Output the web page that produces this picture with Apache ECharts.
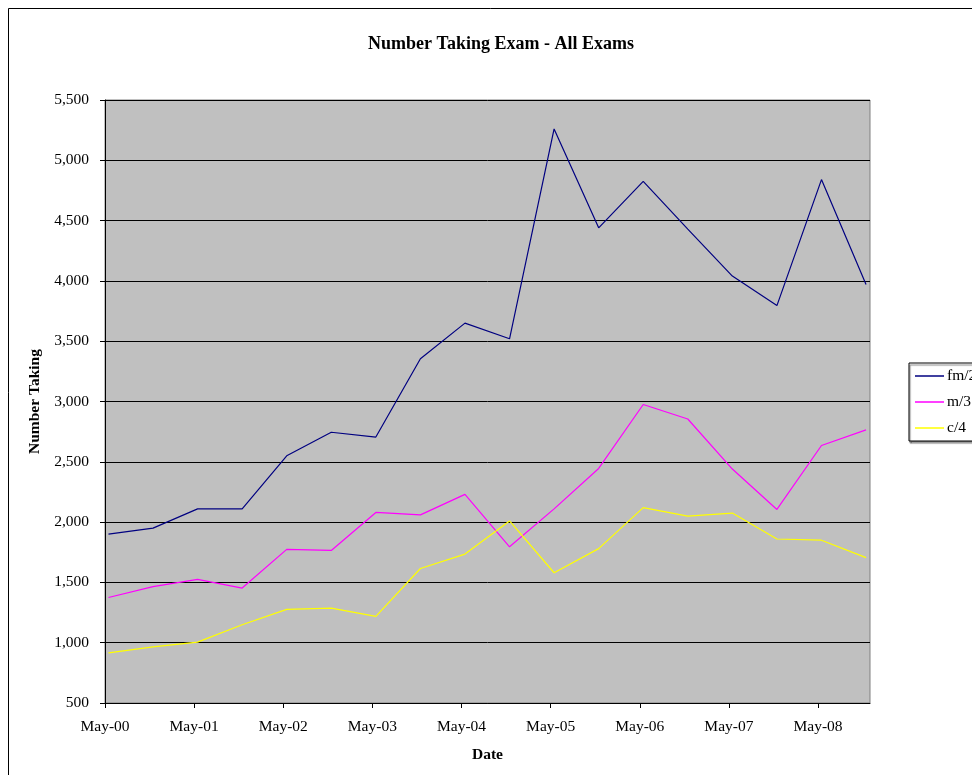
<!DOCTYPE html>
<html>
<head>
<meta charset="utf-8">
<title>Number Taking Exam - All Exams</title>
<script src="https://cdn.jsdelivr.net/npm/echarts@6/dist/echarts.min.js"></script>
<style>
  html, body { margin: 0; padding: 0; background: #ffffff; }
  #chart { width: 972px; height: 775px; }
</style>
</head>
<body>
<div id="chart"></div>
<script>
// Exam sittings (May and November each year)
const examDates = [
  '2000-05-15', '2000-11-15', '2001-05-15', '2001-11-15',
  '2002-05-15', '2002-11-15', '2003-05-15', '2003-11-15',
  '2004-05-15', '2004-11-15', '2005-05-15', '2005-11-15',
  '2006-05-15', '2006-11-15', '2007-05-15', '2007-11-15',
  '2008-05-15', '2008-11-15'
];

// Candidates per sitting
const fm2 = [1900, 1950, 2110, 2110, 2550, 2745, 2705, 3355, 3650, 3520,
             5260, 4440, 4825, 4430, 4040, 3795, 4840, 3970];
const m3  = [1375, 1465, 1525, 1453, 1774, 1765, 2080, 2060, 2230, 1795,
             2110, 2445, 2975, 2855, 2440, 2105, 2635, 2765];
const c4  = [ 915,  965, 1005, 1149, 1276, 1286, 1218, 1615, 1735, 2010,
             1580, 1780, 2120, 2050, 2075, 1860, 1850, 1705];

// Date axis: start, end and labelled ticks
const axisStart = '2000-05-01';
const axisEnd = '2008-12-01';
const tickDates = ['2000-05-01', '2001-05-01', '2002-05-01', '2003-05-01',
                   '2004-05-01', '2005-05-01', '2006-05-01', '2007-05-01', '2008-05-01'];
const tickLabels = ['May-00', 'May-01', 'May-02', 'May-03', 'May-04',
                    'May-05', 'May-06', 'May-07', 'May-08'];

// Y axis range
const yMin = 500, yMax = 5500, yStep = 500;

// Convert a date string into months elapsed since the axis start
function monthsFromStart(s) {
  const [y, m, d] = s.split('-').map(Number);
  const [y0, m0, d0] = axisStart.split('-').map(Number);
  return (y - y0) * 12 + (m - m0) + (d - d0) / 30;
}

const xMax = monthsFromStart(axisEnd);
const tickValues = tickDates.map(monthsFromStart);
const xs = examDates.map(monthsFromStart);
const toPairs = arr => arr.map((v, i) => [xs[i], v]);

const serif = "'Liberation Serif', 'Times New Roman', Times, serif";
const labelSize = 15.5;

const chart = echarts.init(document.getElementById('chart'), null, { renderer: 'canvas' });

chart.setOption({
  backgroundColor: '#ffffff',
  animation: false,
  textStyle: { fontFamily: serif },
  graphic: [{
    type: 'rect',
    shape: { x: 8.5, y: 8.5, width: 1200, height: 1200 },
    style: { fill: 'none', stroke: '#000000', lineWidth: 1 },
    silent: true,
    z: -10
  }],
  title: {
    text: 'Number Taking Exam - All Exams',
    left: 496,
    top: 30,
    textAlign: 'center',
    textStyle: { fontFamily: serif, fontSize: 18, fontWeight: 'bold', color: '#000000' }
  },
  legend: {
    orient: 'vertical',
    left: 909,
    top: 363,
    padding: [5, 8, 5, 6],
    icon: 'rect',
    itemWidth: 29,
    itemHeight: 1.5,
    itemGap: 10,
    backgroundColor: '#ffffff',
    borderColor: '#000000',
    borderWidth: 1,
    shadowColor: 'rgba(96,96,96,0.8)',
    shadowOffsetX: 1,
    shadowOffsetY: 2,
    shadowBlur: 1,
    textStyle: { fontFamily: serif, fontSize: labelSize, color: '#000000', lineHeight: 15, padding: [0, 0, 0, -2] },
    data: ['fm/2', 'm/3', 'c/4']
  },
  grid: {
    left: 105,
    right: 102,
    top: 100,
    bottom: 72,
    show: true,
    backgroundColor: '#c0c0c0',
    borderColor: '#808080',
    borderWidth: 1,
    containLabel: false
  },
  xAxis: {
    type: 'value',
    min: 0,
    max: xMax,
    name: 'Date',
    nameLocation: 'middle',
    nameGap: 44,
    nameTextStyle: { fontFamily: serif, fontSize: labelSize, fontWeight: 'bold', color: '#000000' },
    axisLine: { show: true, onZero: false, lineStyle: { color: '#000000', width: 1 } },
    axisTick: { show: true, length: 5, lineStyle: { color: '#000000' }, customValues: tickValues },
    axisLabel: {
      margin: 16,
      fontFamily: serif,
      fontSize: labelSize,
      color: '#000000',
      customValues: tickValues,
      formatter: v => {
        const i = tickValues.findIndex(t => Math.abs(t - v) < 1e-6);
        return i >= 0 ? tickLabels[i] : '';
      }
    },
    splitLine: { show: false }
  },
  yAxis: {
    type: 'value',
    min: yMin,
    max: yMax,
    interval: yStep,
    name: 'Number Taking',
    nameLocation: 'middle',
    nameGap: 61,
    nameTextStyle: { fontFamily: serif, fontSize: labelSize, fontWeight: 'bold', color: '#000000' },
    axisLine: { show: true, lineStyle: { color: '#000000', width: 1 } },
    axisTick: { show: true, length: 5, lineStyle: { color: '#000000' } },
    axisLabel: {
      margin: 16,
      fontFamily: serif,
      fontSize: labelSize,
      color: '#000000',
      formatter: v => v.toLocaleString('en-US')
    },
    splitLine: { show: true, lineStyle: { color: '#000000', width: 1 } }
  },
  series: [
    {
      name: 'fm/2', type: 'line', data: toPairs(fm2),
      symbol: 'none', showSymbol: false,
      lineStyle: { color: '#000080', width: 1.2 }, itemStyle: { color: '#000080' }
    },
    {
      name: 'm/3', type: 'line', data: toPairs(m3),
      symbol: 'none', showSymbol: false,
      lineStyle: { color: '#ff00ff', width: 1.2 }, itemStyle: { color: '#ff00ff' }
    },
    {
      name: 'c/4', type: 'line', data: toPairs(c4),
      symbol: 'none', showSymbol: false,
      lineStyle: { color: '#ffff00', width: 1.2 }, itemStyle: { color: '#ffff00' }
    }
  ]
});
</script>
</body>
</html>
